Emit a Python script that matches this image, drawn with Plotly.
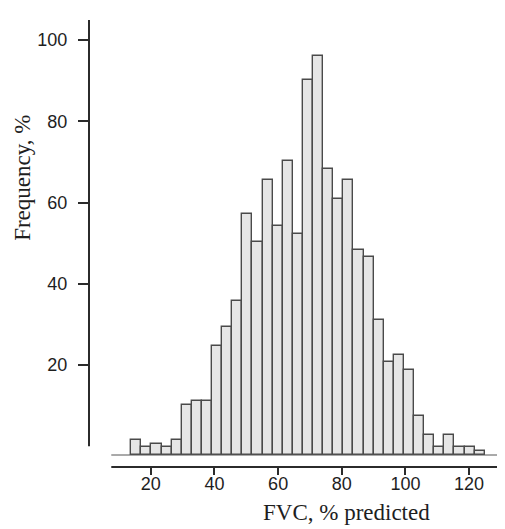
import plotly.graph_objects as go

# Histogram of FVC, % predicted
bin_start = 13.85
bin_width = 3.173
frequency = [3.8, 1.9, 2.8, 1.9, 3.8, 12.4, 13.2, 13.2, 26.8, 31.5, 38.0, 59.2,
             52.4, 67.7, 56.3, 72.3, 54.4, 92.4, 98.1, 70.5, 63.1, 67.7, 50.5,
             48.7, 33.3, 22.9, 24.7, 21.0, 9.5, 4.85, 2.0, 4.85, 2.0, 2.0, 0.9]
bin_centers = [bin_start + bin_width * (i + 0.5) for i in range(len(frequency))]
x_ticks = [20, 40, 60, 80, 100, 120]
y_ticks = [20, 40, 60, 80, 100]
x_title = "FVC, % predicted"
y_title = "Frequency, %"

base_level = -2.15
x_range = [0.57, 133.8]
y_range = [-5.1, 104.92]

axis_col = "#2b2b2b"
tick_font = dict(family="Liberation Sans, Arial, sans-serif", size=18, color="#1e1e1e")
title_font = dict(family="Liberation Serif, Times New Roman, serif", size=23, color="#1e1e1e")

fig = go.Figure()
fig.add_trace(go.Bar(
    x=bin_centers,
    y=frequency,
    base=base_level,
    width=bin_width,
    marker=dict(color="#e6e6e6", line=dict(color="#4a4a4a", width=1.4)),
    showlegend=False,
    hoverinfo="skip",
))

fig.update_layout(
    width=505, height=529,
    margin=dict(l=81, r=0, t=12, b=70),
    paper_bgcolor="white", plot_bgcolor="white",
    bargap=0,
    xaxis=dict(
        range=x_range, showgrid=False, zeroline=False, showline=False,
        tickmode="array", tickvals=x_ticks, ticktext=[str(v) for v in x_ticks],
        ticks="outside", ticklen=7, tickwidth=1.5, tickcolor=axis_col,
        tickfont=tick_font, ticklabelstandoff=-7,
    ),
    yaxis=dict(
        range=y_range, showgrid=False, zeroline=False, showline=False,
        tickmode="array", tickvals=y_ticks, ticktext=[str(v) for v in y_ticks],
        ticks="outside", ticklen=10, tickwidth=1.5, tickcolor=axis_col,
        tickfont=tick_font, ticklabelstandoff=7,
    ),
    annotations=[
        dict(text=x_title, xref="paper", yref="paper", x=0.6078, y=-0.1007,
             xanchor="center", yanchor="middle", showarrow=False, font=title_font),
        dict(text=y_title, xref="paper", yref="paper", x=-0.156, y=0.6466,
             xanchor="center", yanchor="middle", textangle=-90, showarrow=False,
             font=title_font),
    ],
    shapes=[
        # y axis line (from 0 up to the top)
        dict(type="line", xref="paper", yref="y", x0=0, x1=0, y0=0, y1=y_range[1],
             line=dict(color=axis_col, width=2)),
        # x axis line
        dict(type="line", xref="x", yref="paper", x0=7.57, x1=x_range[1], y0=0, y1=0,
             line=dict(color=axis_col, width=2.2)),
        # baseline under bars
        dict(type="line", xref="x", yref="y", x0=7.57, x1=131.6, y0=base_level, y1=base_level,
             line=dict(color="#555555", width=1)),
    ],
)

fig.write_html("out.html")
